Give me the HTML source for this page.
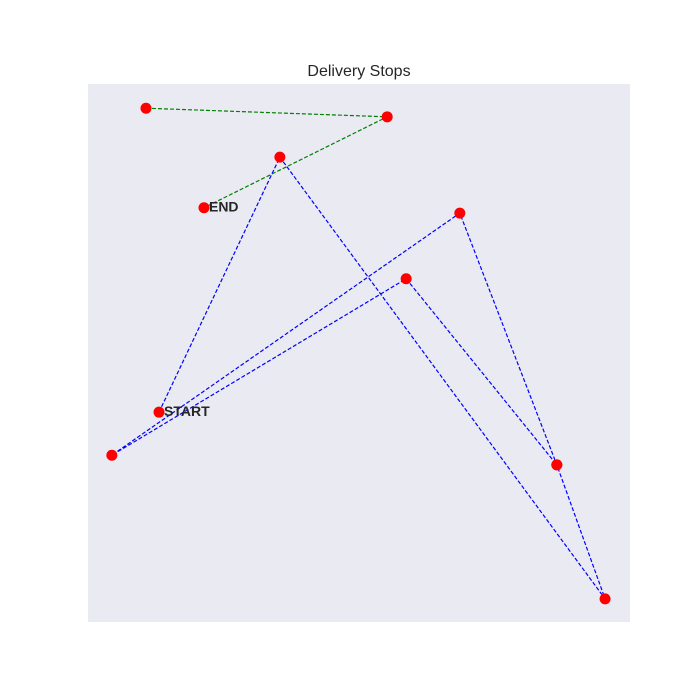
<!DOCTYPE html>
<html><head><meta charset="utf-8"><style>body{margin:0;background:#fff}svg{display:block}</style></head>
<body>
<svg id="chart" width="700" height="700" xmlns="http://www.w3.org/2000/svg" font-family="Liberation Sans, sans-serif">
<rect x="88" y="84" width="542" height="538" fill="#eaeaf2"/>
<text x="359" y="76" text-anchor="middle" font-size="16" fill="#262626">Delivery Stops</text>
<g id="lines"></g><g id="pts"></g>
</svg>
<script>
const routeX=[13.1,35.4,95.4,86.5,68.6,4.4,58.7,86.5];
const routeY=[39.0,86.4,4.3,29.2,76.0,31.0,63.8,29.2];
const returnX=[10.7,55.2,21.4];
const returnY=[95.5,93.9,77.0];
const stopLabels=["START","END"];
const sx=v=>88+v*5.42, sy=v=>622-v*5.38;
const NS="http://www.w3.org/2000/svg";
const L=document.getElementById('lines'),P=document.getElementById('pts');
function path(xs,ys,color,name){
  const p=document.createElementNS(NS,'polyline');
  p.setAttribute('points',xs.map((x,i)=>sx(x)+','+sy(ys[i])).join(' '));
  p.setAttribute('fill','none');p.setAttribute('stroke',color);p.setAttribute('stroke-width','1.2');p.setAttribute('stroke-dasharray','4,2');
  
  
  L.appendChild(p);
}
path(routeX,routeY,'blue','route-line');
path(returnX,returnY,'green','return-line');
function dot(x,y){
  const c=document.createElementNS(NS,'circle');
  c.setAttribute('cx',sx(x));c.setAttribute('cy',sy(y));c.setAttribute('r','5.5');c.setAttribute('fill','red');
  
  
  P.appendChild(c);
}
routeX.forEach((x,i)=>dot(x,routeY[i]));
returnX.forEach((x,i)=>dot(x,returnY[i]));
function label(x,y,t){
  const e=document.createElementNS(NS,'text');
  e.setAttribute('x',sx(x)+5);e.setAttribute('y',sy(y)+4);e.setAttribute('font-size','14');e.setAttribute('font-weight','bold');e.setAttribute('fill','#262626');
  e.textContent=t;
  
  
  P.appendChild(e);
}
label(routeX[0],routeY[0],stopLabels[0]);
label(returnX[2],returnY[2],stopLabels[1]);
</script>
</body></html>
